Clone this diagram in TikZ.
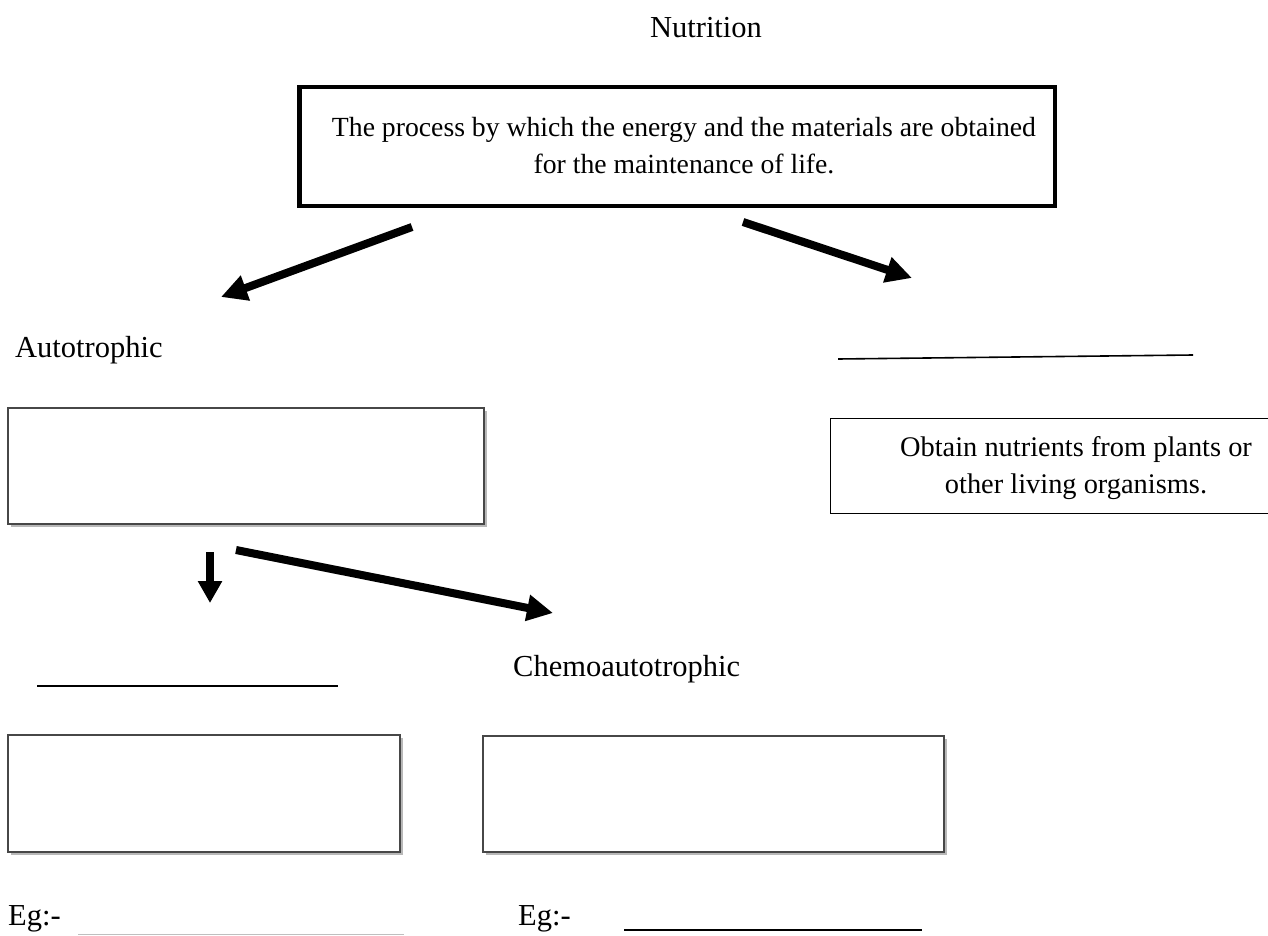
\documentclass[tikz,border=0pt]{standalone}
\usepackage{fontspec}
\setmainfont{Liberation Serif}
\usetikzlibrary{arrows.meta,shadows}
\begin{document}
\begin{tikzpicture}[x=1pt,y=-1pt,
  lbl/.style={inner sep=0pt, font=\fontsize{30.5}{36}\selectfont},
  boxtext/.style={inner sep=0pt, align=center, font=\fontsize{27.7}{37}\selectfont},
  bigarrow/.style={line width=8pt, -{Triangle[length=26pt,width=25pt]}},
  smallarrow/.style={line width=8pt, -{Triangle[length=22pt,width=23pt]}},
  arrowshade/.style={draw=black!14},
  emptybox/.style={draw=black!72, line width=1.3pt, fill=white, inner sep=0pt,
    drop shadow={shadow xshift=2.5pt, shadow yshift=-2.5pt, fill=black, opacity=.28}},
  blank/.style={line width=1.6pt}
]
\useasboundingbox (0,0) rectangle (1268,936);

% title
\node[lbl] (nut) at (706,28) {Nutrition};

% definition box
\node[draw, line width=4.5pt, minimum width=755.5pt, minimum height=118.5pt, inner sep=0pt] (def) at (677,146.5) {};
\node[boxtext] (deftext) at (684,146) {The process by which the energy and the materials are obtained\\for the maintenance of life.};

% arrows from definition box
\coordinate (a1s) at (412,227); \coordinate (a1e) at (221,297);
\coordinate (a2s) at (743,222); \coordinate (a2e) at (912,278);
\begin{scope}[shift={(2,4)}]
  \draw[bigarrow, arrowshade] (a1s) -- (a1e);
  \draw[bigarrow, arrowshade] (a2s) -- (a2e);
\end{scope}
\draw[bigarrow] (a1s) -- (a1e);
\draw[bigarrow] (a2s) -- (a2e);

% autotrophic branch
\node[lbl, anchor=west] (auto) at (15,350) {Autotrophic};
\node[emptybox, minimum width=476pt, minimum height=116pt] (b1) at (246,466) {};

% heterotrophic branch
\coordinate (hl1) at (838,359); \coordinate (hl2) at (1193,355);
\draw[blank] (hl1) -- (hl2);
\node[boxtext, font=\fontsize{28.4}{37}\selectfont] (het) at (1076,468) {Obtain nutrients from plants or\\other living organisms.};
\draw[line width=1pt] (1268,418) -| (830,513) -- (1268,513);

% arrows from autotrophic box
\coordinate (a3s) at (210,552); \coordinate (a3e) at (210,603);
\coordinate (a4s) at (236,550); \coordinate (a4e) at (553,613);
\begin{scope}[shift={(2,4)}]
  \draw[smallarrow, arrowshade] (a3s) -- (a3e);
  \draw[bigarrow, arrowshade] (a4s) -- (a4e);
\end{scope}
\draw[smallarrow] (a3s) -- (a3e);
\draw[bigarrow] (a4s) -- (a4e);

% second level
\coordinate (ll1) at (37,686); \coordinate (ll2) at (338,686);
\draw[blank] (ll1) -- (ll2);
\node[lbl, anchor=west] (chemo) at (513,669) {Chemoautotrophic};

\node[emptybox, minimum width=392pt, minimum height=117pt] (b2) at (204,793.5) {};
\node[emptybox, minimum width=461pt, minimum height=116pt] (b3) at (713.5,794) {};

% examples
\node[lbl, anchor=west] (eg1) at (8,919) {Eg:-};
\node[lbl, anchor=west] (eg2) at (518,919) {Eg:-};
\coordinate (e1a) at (78,934); \coordinate (e1b) at (404,934);
\coordinate (e2a) at (624,930); \coordinate (e2b) at (922,930);
\draw[line width=1pt, black!25] (e1a) -- (e1b);
\draw[blank] (e2a) -- (e2b);
\end{tikzpicture}
\end{document}
